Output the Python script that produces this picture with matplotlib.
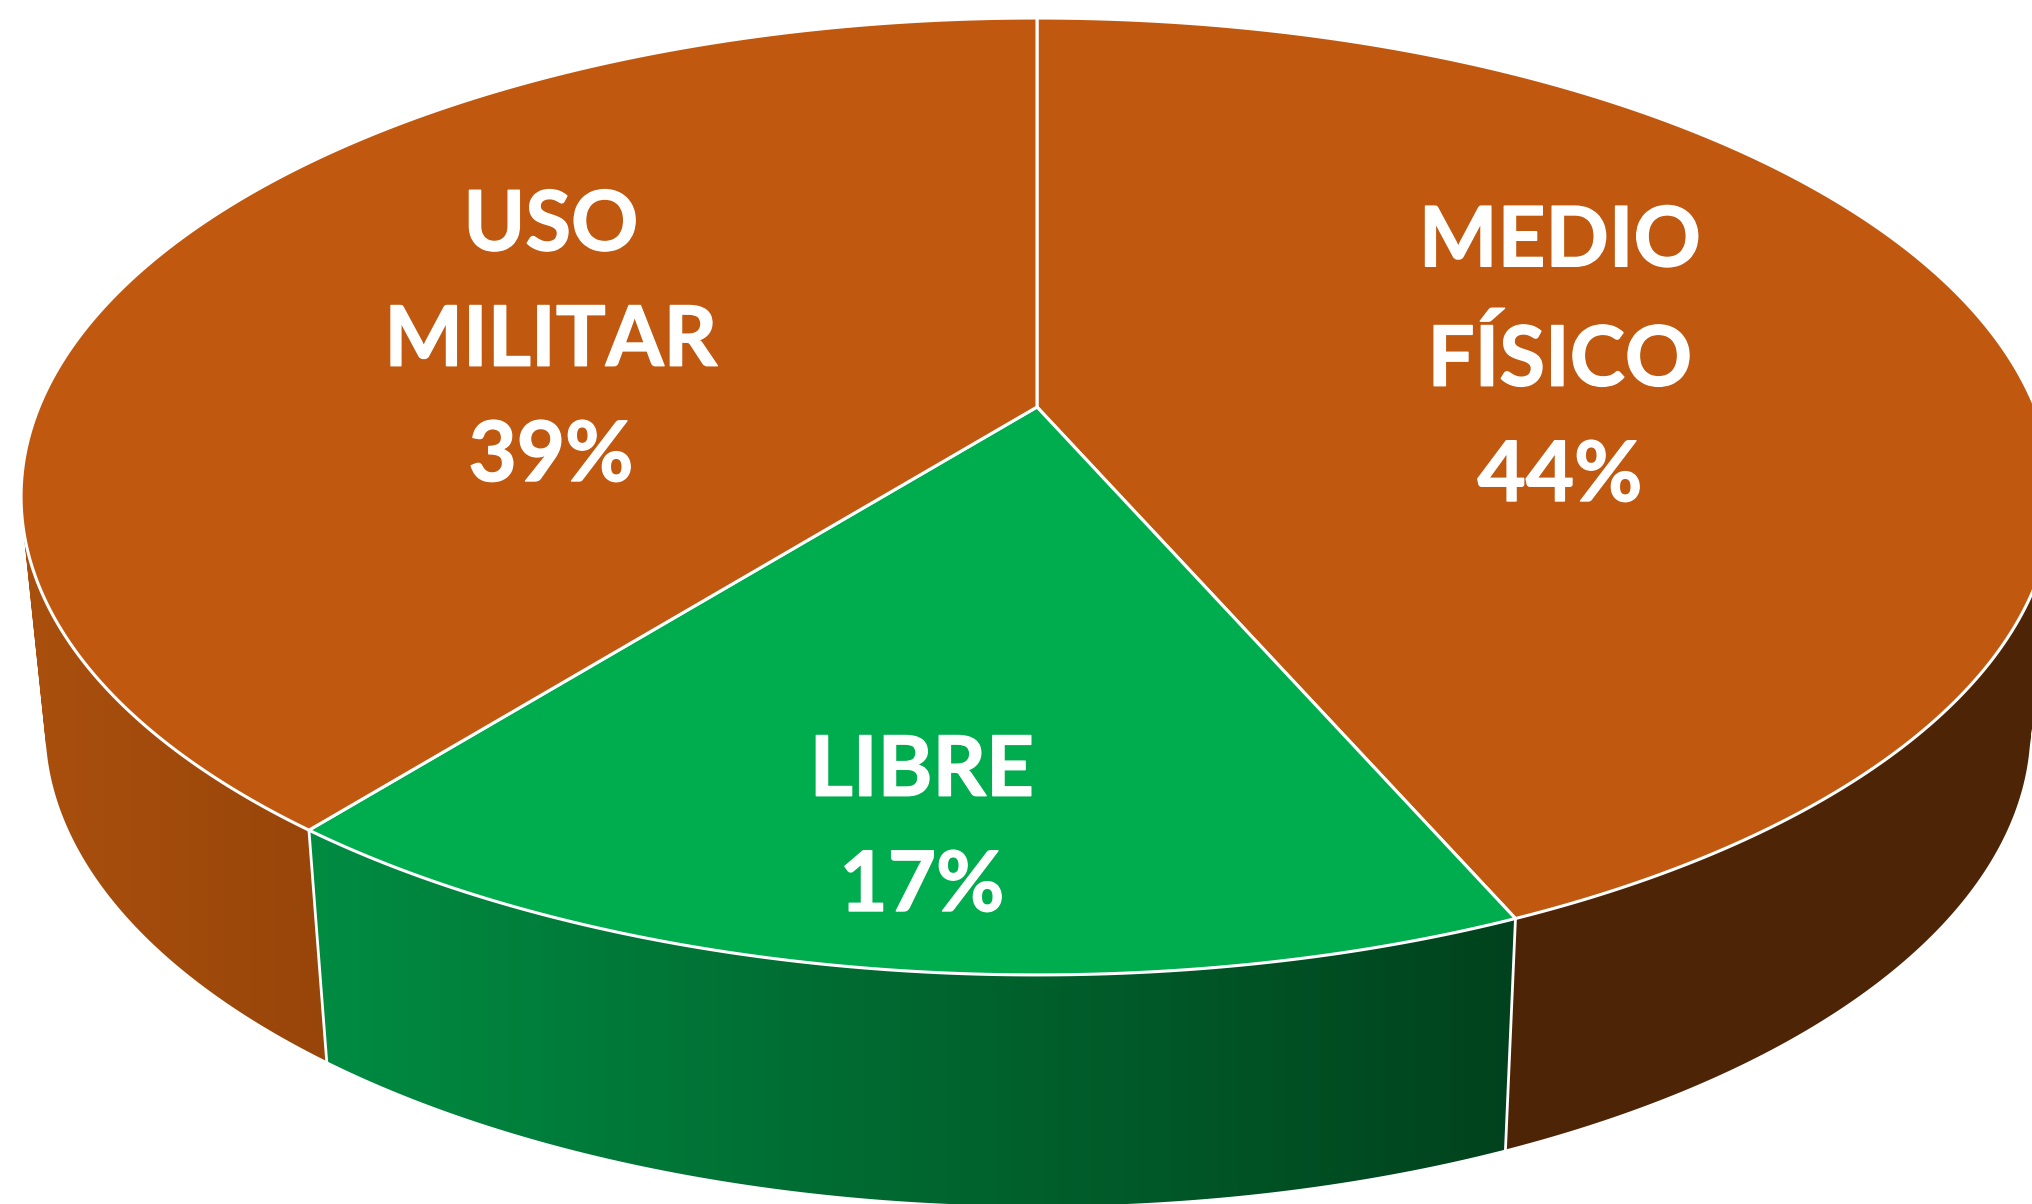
import numpy as np
import matplotlib
matplotlib.use('Agg')
import matplotlib.pyplot as plt
import matplotlib.patheffects as pe
from matplotlib.colors import LinearSegmentedColormap
from matplotlib.patches import PathPatch, Polygon
from matplotlib.path import Path

# shares as measured on the picture, the printed labels are rounded
names = ['MEDIO\nFÍSICO', 'LIBRE', 'USO\nMILITAR']
shares = [43.5, 17.2, 39.3]
percents = [44, 17, 39]
topColors = ['#c0580f', '#00ad4e', '#c0580f']
sideColors = [['#4d2406', '#4d2406'], ['#008c42', '#00421d'], ['#aa500e', '#98450a']]
# baseline of the last line of each label
labelPos = [(1560, 501), (922, 911), (551, 481)]

# perspective of the disc, in pixels of the image
cx, cy = 1037, 407
halfWidth = 998
tilt = 0.187
lean = -385.6
depth = 231
shrink = 0.977


def project(theta):
    x, y = np.sin(theta), np.cos(theta)
    w = 1 + tilt * y
    return cx + halfWidth * x / w, (cy + lean * y) / w


def lower(px, py):
    return cx + 1 + shrink * (px - cx), py + depth


def arc(start, end):
    t = np.linspace(start, end, 300)
    return project(t)


def wallPath(px, py, qx, qy):
    # many small quads, so the wall also fills the straight silhouette at the sides
    verts = []
    codes = []
    for j in range(len(px) - 1):
        quad = [(px[j], py[j]), (px[j + 1], py[j + 1]), (qx[j + 1], qy[j + 1]), (qx[j], qy[j])]
        # same winding for all of them or the overlaps cancel out
        area = sum(quad[k][0] * quad[(k + 1) % 4][1] - quad[(k + 1) % 4][0] * quad[k][1] for k in range(4))
        if area < 0:
            quad = quad[::-1]
        verts += quad + [quad[0]]
        codes += [Path.MOVETO, Path.LINETO, Path.LINETO, Path.LINETO, Path.CLOSEPOLY]
    return Path(verts, codes)


fig = plt.figure(figsize=(20.33, 12.04), dpi=100)
ax = fig.add_axes([0, 0, 1, 1])
ax.axis('off')

edges = np.radians(np.cumsum([0] + shares) * 3.6)

# side walls first, the top covers what is hidden
for i in range(len(shares)):
    px, py = arc(edges[i], edges[i + 1])
    qx, qy = lower(px, py)
    wall = PathPatch(wallPath(px, py, qx, qy), facecolor='none', edgecolor='none')
    ax.add_patch(wall)
    cmap = LinearSegmentedColormap.from_list('side', sideColors[i])
    grad = np.linspace(0, 1, 256).reshape(1, -1)
    # gradient runs along the part of the wall that is seen
    if i == 2:
        extent = (px.min(), max(px[0], qx[0]), 1204, 0)
    else:
        extent = (min(px.min(), qx.min()), max(px.max(), qx.max()), 1204, 0)
    img = ax.imshow(grad, cmap=cmap, extent=extent, aspect='auto', zorder=1)
    img.set_clip_path(wall)

# seams between the walls
for e in edges[1:-1]:
    px, py = project(e)
    qx, qy = lower(px, py)
    ax.plot([px, qx], [py, qy], color='white', lw=2.0, zorder=2)

# top face
for i in range(len(shares)):
    px, py = arc(edges[i], edges[i + 1])
    xy = np.column_stack([np.r_[cx, px], np.r_[cy, py]])
    ax.add_patch(Polygon(xy, closed=True, facecolor=topColors[i], edgecolor='white',
                         lw=2.2, joinstyle='round', zorder=3))

for name, pct, pos in zip(names, percents, labelPos):
    t = ax.text(pos[0], pos[1], name + '\n%d%%' % pct, color='white', fontsize=60,
                family='Lato', fontweight='bold', ha='center', va='baseline',
                linespacing=1.66, zorder=4)
    t.set_path_effects([pe.withStroke(linewidth=1.0, foreground='white')])

ax.set_xlim(0, 2033)
ax.set_ylim(1204, 0)
fig.savefig('out.png', dpi=100)
